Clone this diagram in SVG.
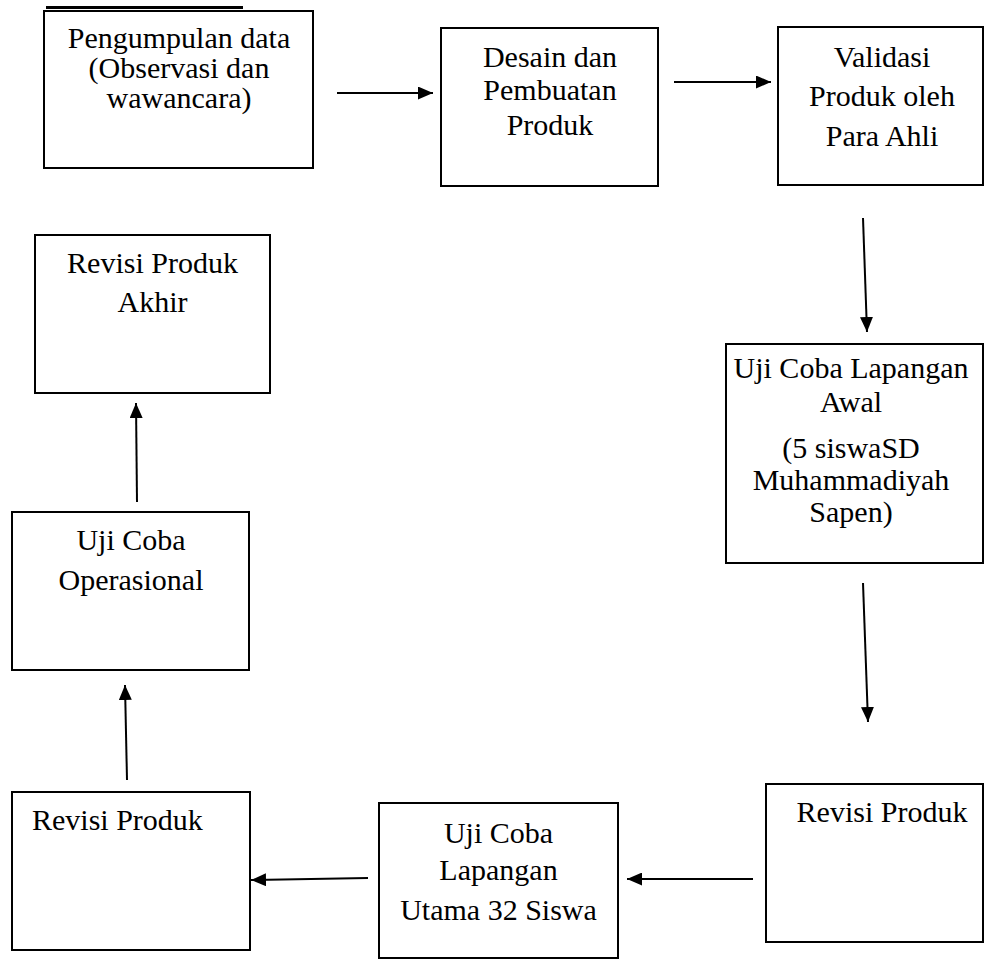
<svg xmlns="http://www.w3.org/2000/svg" width="984" height="961" viewBox="0 0 984 961">
<style>
.box{fill:#fff;stroke:#000;stroke-width:2}
text{font-family:'Liberation Serif','Times New Roman',Times,'DejaVu Serif',serif;font-size:30px;fill:#000;text-anchor:middle}
text.l{text-anchor:start}
.c{stroke:#000;stroke-width:2;fill:none;marker-end:url(#ah)}
</style>
<defs>
<marker id="ah" markerUnits="userSpaceOnUse" markerWidth="16" markerHeight="13" refX="15" refY="6.5" orient="auto">
<path d="M0,0 L15,6.5 L0,13 z" fill="#000"/>
</marker>
</defs>
<rect width="984" height="961" fill="#fff"/>
<g id="connectors">
<line class="c" x1="337" y1="93" x2="433" y2="93"/>
<line class="c" x1="674" y1="82" x2="771" y2="82"/>
<line class="c" x1="863" y1="218" x2="867" y2="332"/>
<line class="c" x1="863" y1="583" x2="868" y2="722"/>
<line class="c" x1="753" y1="879" x2="627" y2="879"/>
<line class="c" x1="368" y1="878" x2="251" y2="880"/>
<line class="c" x1="127" y1="780" x2="125" y2="685"/>
<line class="c" x1="137" y1="502" x2="136" y2="403"/>
</g>
<g id="n1">
<line x1="46" y1="7.5" x2="243" y2="7.5" stroke="#000" stroke-width="3"/>
<rect class="box" x="44" y="11" width="269" height="157"/>
<text x="179" y="48">Pengumpulan data</text>
<text x="179" y="78">(Observasi dan</text>
<text x="179" y="108">wawancara)</text>
</g>
<g id="n2">
<rect class="box" x="441" y="28" width="217" height="158"/>
<text x="550" y="67">Desain dan</text>
<text x="550" y="100">Pembuatan</text>
<text x="550" y="135">Produk</text>
</g>
<g id="n3">
<rect class="box" x="778" y="27" width="205" height="158"/>
<text x="882" y="67">Validasi</text>
<text x="882" y="106">Produk oleh</text>
<text x="882" y="146">Para Ahli</text>
</g>
<g id="n4">
<rect class="box" x="726" y="344" width="257" height="219"/>
<text x="851" y="378">Uji Coba Lapangan</text>
<text x="851" y="412">Awal</text>
<text x="851" y="458">(5 siswaSD</text>
<text x="851" y="490">Muhammadiyah</text>
<text x="851" y="522">Sapen)</text>
</g>
<g id="n5">
<rect class="box" x="766" y="784" width="217" height="158"/>
<text x="882" y="822">Revisi Produk</text>
</g>
<g id="n6">
<rect class="box" x="379" y="803" width="239" height="155"/>
<text x="498.5" y="843">Uji Coba</text>
<text x="498.5" y="880">Lapangan</text>
<text x="498.5" y="920">Utama 32 Siswa</text>
</g>
<g id="n7">
<rect class="box" x="12" y="792" width="238" height="158"/>
<text class="l" x="32" y="830">Revisi Produk</text>
</g>
<g id="n8">
<rect class="box" x="12" y="512" width="237" height="158"/>
<text x="131" y="550">Uji Coba</text>
<text x="131" y="590">Operasional</text>
</g>
<g id="n9">
<rect class="box" x="35" y="235" width="235" height="158"/>
<text x="152.5" y="273">Revisi Produk</text>
<text x="152.5" y="312">Akhir</text>
</g>
</svg>
